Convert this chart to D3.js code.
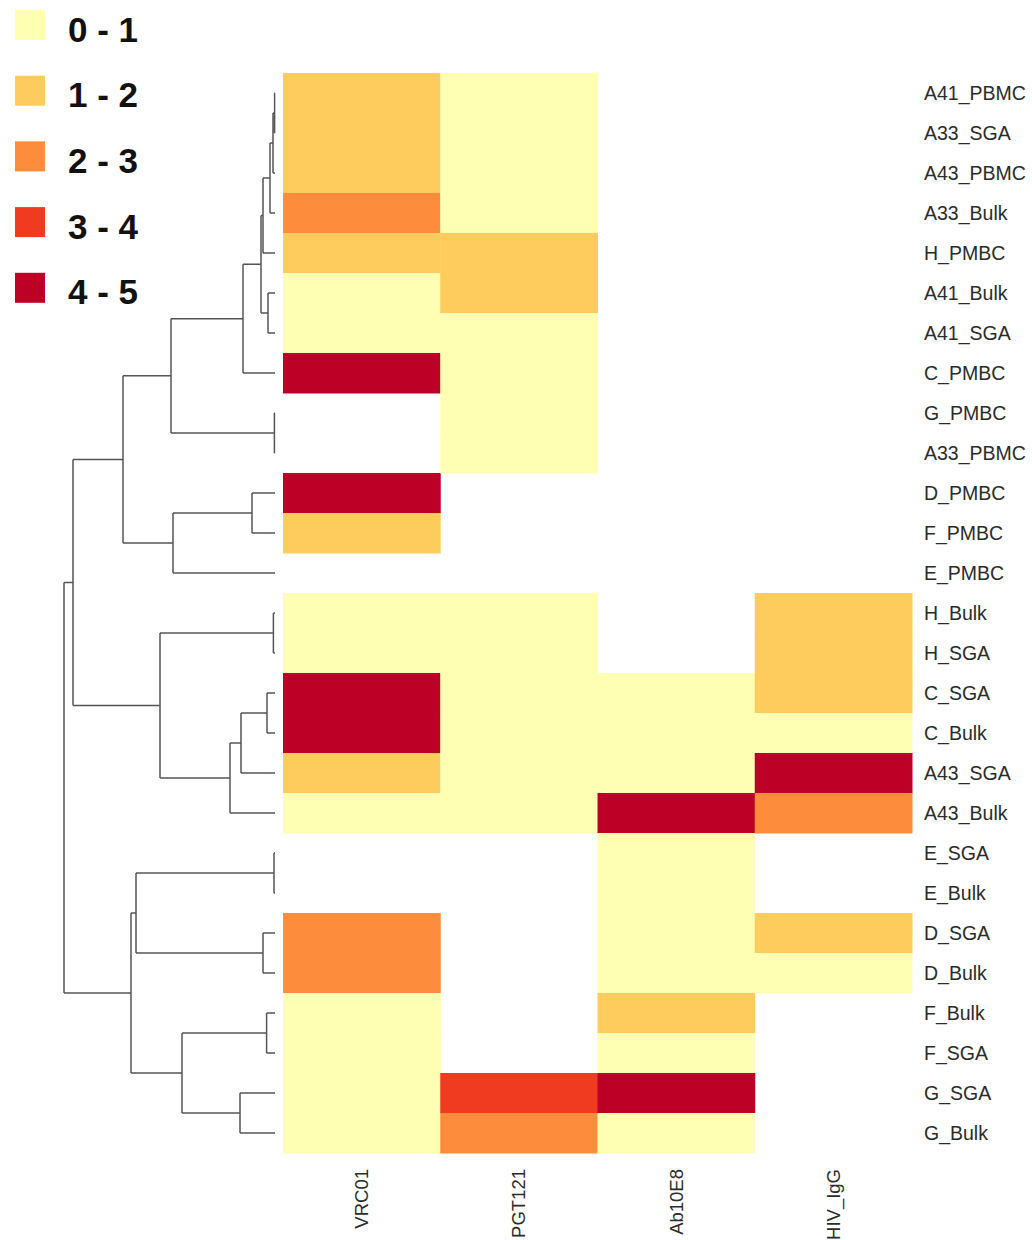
<!DOCTYPE html>
<html lang="en">
<meta charset="utf-8">
<style>
body { margin: 0; background: #fff; }
text { font-family: Arial, "Liberation Sans", sans-serif; }
.rowlab { font-size: 19.5px; fill: #2b2b2b; }
.collab { font-size: 18.5px; fill: #2b2b2b; }
.leg { font-size: 35px; font-weight: bold; fill: #111; }
.link { fill: none; stroke: #555; stroke-width: 1.5; }
</style>
<body>
<script src="https://d3js.org/d3.v7.min.js"></script>
<script>
// row order as shown (top to bottom)
var rowLabels = ["A41_PBMC","A33_SGA","A43_PBMC","A33_Bulk","H_PMBC","A41_Bulk","A41_SGA",
  "C_PMBC","G_PMBC","A33_PBMC","D_PMBC","F_PMBC","E_PMBC","H_Bulk","H_SGA","C_SGA","C_Bulk",
  "A43_SGA","A43_Bulk","E_SGA","E_Bulk","D_SGA","D_Bulk","F_Bulk","F_SGA","G_SGA","G_Bulk"];
var colLabels = ["VRC01","PGT121","Ab10E8","HIV_IgG"];

// bin index per row (1 = "0 - 1" ... 5 = "4 - 5"), null = no value
var vrc01  = [2,2,2,3,2,1,1,5,null,null,5,2,null,1,1,5,5,2,1,null,null,3,3,1,1,1,1];
var pgt121 = [1,1,1,1,2,2,1,1,1,1,null,null,null,1,1,1,1,1,1,null,null,null,null,null,null,4,3];
var ab10e8 = [null,null,null,null,null,null,null,null,null,null,null,null,null,null,null,1,1,1,5,1,1,1,1,2,1,5,1];
var hivIgG = [null,null,null,null,null,null,null,null,null,null,null,null,null,2,2,2,1,5,3,null,null,2,1,null,null,null,null];

var binLabels = ["0 - 1","1 - 2","2 - 3","3 - 4","4 - 5"];
var binColors = ["#FFFFB4","#FECC5C","#FD8D3C","#F03B20","#BD0026"];

// hclust-style merges: negative = leaf (-(index+1)), positive = earlier merge step
var merges = [[-1,-2],[-9,-10],[-20,-21],[-14,-15],[1,-3],[5,-4],[-6,-7],[-16,-17],[-24,-25],
  [6,-5],[-22,-23],[10,7],[-11,-12],[12,-8],[8,-18],[-26,-27],[15,-19],[9,16],[13,-13],
  [14,2],[4,17],[3,11],[22,18],[20,19],[24,21],[25,23]];
var heights = [0.02,0.03,0.05,0.08,0.1,0.25,0.35,0.4,0.42,0.6,0.6,0.7,1.15,1.6,1.7,1.75,2.25,
  4.65,5.1,5.2,5.75,6.95,7.2,7.6,10.1,10.55];

var width = 1032, height = 1240;
var svg = d3.select("body").append("svg").attr("width", width).attr("height", height);

var y = d3.scaleBand().domain(d3.range(rowLabels.length)).range([73, 1153]);
var x = d3.scaleBand().domain(colLabels).range([283, 912]);
var color = d3.scaleOrdinal().domain([1,2,3,4,5]).range(binColors);

// heatmap cells
var series = [vrc01, pgt121, ab10e8, hivIgG];
var cells = [];
series.forEach(function(s, j) {
  s.forEach(function(v, i) { if (v != null) cells.push({row: i, col: colLabels[j], v: v}); });
});
svg.append("g").selectAll("rect").data(cells).enter().append("rect")
    .attr("x", function(d) { return x(d.col); })
    .attr("y", function(d) { return y(d.row); })
    .attr("width", x.bandwidth() + 0.5)
    .attr("height", y.bandwidth() + 0.5)
    .attr("fill", function(d) { return color(d.v); });

// row labels
svg.append("g").selectAll("text").data(rowLabels).enter().append("text")
    .attr("class", "rowlab")
    .attr("x", 924)
    .attr("y", function(d, i) { return y(i) + y.bandwidth() / 2; })
    .attr("dy", "0.36em")
    .text(function(d) { return d; });

// column labels, rotated
svg.append("g").selectAll("text").data(colLabels).enter().append("text")
    .attr("class", "collab")
    .attr("transform", function(d) { return "translate(" + (x(d) + x.bandwidth() / 2) + ",1169) rotate(-90)"; })
    .attr("text-anchor", "end")
    .attr("dy", "0.35em")
    .text(function(d) { return d; });

// dendrogram
function node(k) {
  if (k < 0) return {leaf: -k - 1, h: 0};
  var m = merges[k - 1];
  return {h: heights[k - 1], children: [node(m[0]), node(m[1])]};
}
var root = d3.hierarchy(node(merges.length));
var hx = d3.scaleLinear().domain([0, d3.max(heights)]).range([275, 64]);
root.eachAfter(function(d) {
  d.py = d.children ? d3.mean(d.children, function(c) { return c.py; })
                    : y(d.data.leaf) + y.bandwidth() / 2;
});
var links = [];
root.each(function(d) {
  if (!d.children) return;
  var px = hx(d.data.h);
  var c0 = d.children[0], c1 = d.children[1];
  links.push("M" + px + "," + c0.py + "V" + c1.py);
  d.children.forEach(function(c) {
    links.push("M" + px + "," + c.py + "H" + hx(c.data.h));
  });
});
svg.append("path").attr("class", "link").attr("d", links.join(""));

// legend
var leg = svg.append("g").selectAll("g").data(binLabels).enter().append("g")
    .attr("transform", function(d, i) { return "translate(15," + (10 + i * 65.7) + ")"; });
leg.append("rect").attr("width", 30).attr("height", 30)
    .attr("fill", function(d, i) { return binColors[i]; });
leg.append("text").attr("class", "leg").attr("x", 53).attr("y", 19).attr("dy", "0.36em")
    .text(function(d) { return d; });
</script>
</body>
</html>
